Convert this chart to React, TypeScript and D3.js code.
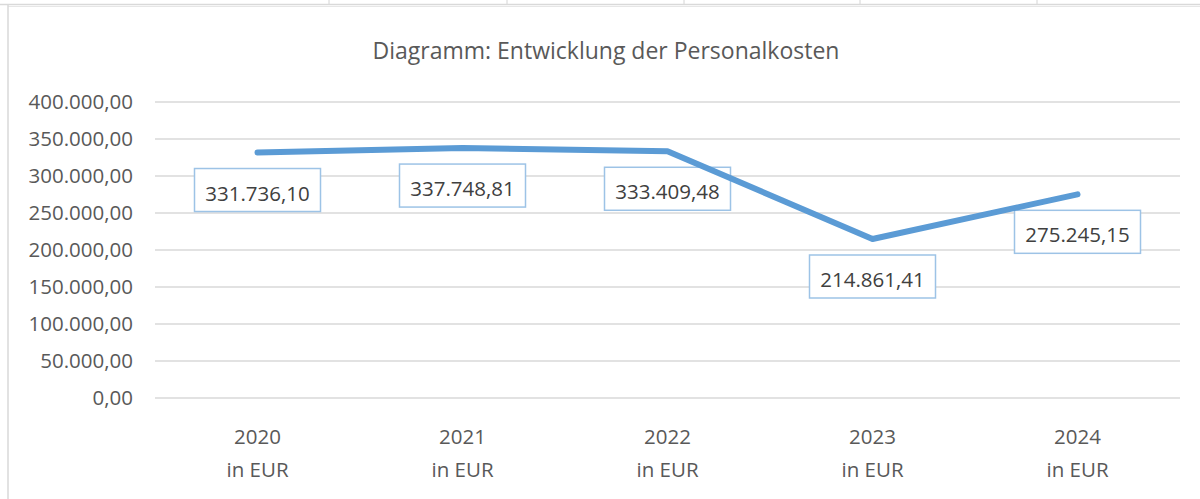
import React from "react";
import * as d3 from "d3";

const categories = ["2020", "2021", "2022", "2023", "2024"];
const unitLabel = "in EUR";
const values = [331736.10, 337748.81, 333409.48, 214861.41, 275245.15];
const yTicks = [0, 50000, 100000, 150000, 200000, 250000, 300000, 350000, 400000];
const title = "Diagramm: Entwicklung der Personalkosten";
const cellLines = [329, 507, 684, 860, 1037];

const W = 1200;
const H = 499;
const FONT = "'Open Sans', 'Liberation Sans', sans-serif";

const de = d3.formatLocale({ decimal: ",", thousands: ".", grouping: [3], currency: ["", " €"] });
const fmt = de.format(",.2f");

export default function App() {
  const x = d3.scaleBand<string>().domain(categories).range([155, 1180]);
  const y = d3.scaleLinear().domain([0, 400000]).range([398, 102]);
  const cx = (c: string) => (x(c) as number) + x.bandwidth() / 2;
  const line = d3
    .line<number>()
    .x((_, i) => cx(categories[i]))
    .y((v) => y(v));

  const boxW = 126;
  const boxH = 43;

  return (
    <svg
      width={W}
      height={H}
      style={{ position: "absolute", left: 0, top: 0, background: "#fff" }}
      fontFamily={FONT}
    >
      <rect x={0} y={0} width={W} height={H} fill="#fff" />
      {cellLines.map((cxl) => (
        <line key={cxl} x1={cxl} x2={cxl} y1={0} y2={4} stroke="#d4d4d4" strokeWidth={1} />
      ))}
      <line x1={0} x2={W} y1={4.5} y2={4.5} stroke="#d9d9d9" strokeWidth={1.5} />
      <line x1={8} x2={W} y1={6.5} y2={6.5} stroke="#e6e6e6" strokeWidth={1} />
      <line x1={8} x2={8} y1={5} y2={H} stroke="#d9d9d9" strokeWidth={1.5} />

      <text x={606} y={59} textAnchor="middle" fontSize={23} fill="#595959">
        {title}
      </text>

      {yTicks.map((t) => (
        <g key={t}>
          <line x1={155} x2={1180} y1={y(t)} y2={y(t)} stroke="#d9d9d9" strokeWidth={1.5} />
          <text x={133} y={y(t)} dy="0.36em" textAnchor="end" fontSize={20.5} fill="#595959">
            {fmt(t)}
          </text>
        </g>
      ))}

      {categories.map((c) => (
        <g key={c}>
          <text x={cx(c)} y={444} textAnchor="middle" fontSize={20.5} fill="#595959">
            {c}
          </text>
          <text x={cx(c)} y={477} textAnchor="middle" fontSize={20.5} fill="#595959">
            {unitLabel}
          </text>
        </g>
      ))}

      {values.map((v, i) => {
        const px = cx(categories[i]);
        const top = y(v) + 16;
        return (
          <rect
            key={"b" + i}
            x={px - boxW / 2}
            y={top}
            width={boxW}
            height={boxH}
            fill="#fff"
            stroke="#9dc3e6"
            strokeWidth={1.5}
          />
        );
      })}

      <path
        d={line(values) || ""}
        fill="none"
        stroke="#5b9bd5"
        strokeWidth={6}
        strokeLinecap="round"
        strokeLinejoin="round"
      />

      {values.map((v, i) => {
        const px = cx(categories[i]);
        const top = y(v) + 16;
        return (
          <text
            key={"t" + i}
            x={px}
            y={top + boxH / 2 + 10.5}
            textAnchor="middle"
            fontSize={20.5}
            fill="#404040"
          >
            {fmt(v)}
          </text>
        );
      })}
    </svg>
  );
}
